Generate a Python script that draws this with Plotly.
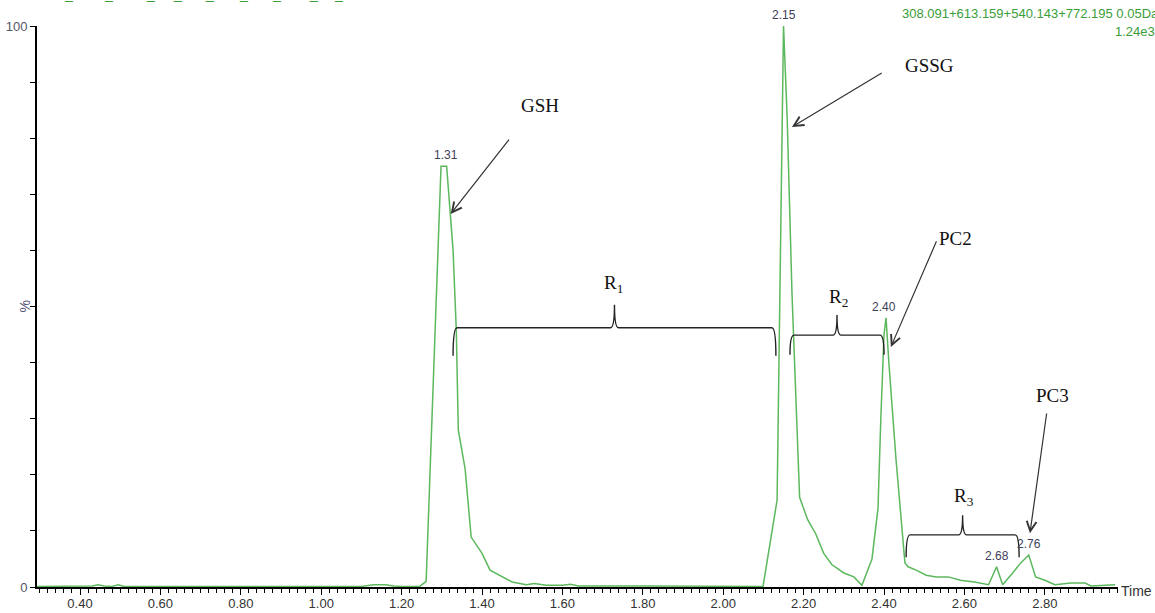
import plotly.graph_objects as go

# Chromatogram trace (retention time in min, relative intensity in %)
time_min = [0.293, 0.40, 0.43, 0.445, 0.46, 0.48, 0.495, 0.51, 0.60, 0.70, 0.80, 0.90, 1.00,
            1.10, 1.13, 1.16, 1.18, 1.20, 1.245, 1.261, 1.298, 1.312, 1.328, 1.336, 1.341,
            1.358, 1.373, 1.40, 1.42, 1.45, 1.475, 1.51, 1.53, 1.56, 1.60, 1.62, 1.64, 1.80,
            1.90, 2.00, 2.05, 2.099, 2.134, 2.15, 2.159, 2.171, 2.19, 2.21, 2.23, 2.25, 2.27,
            2.30, 2.325, 2.345, 2.37, 2.385, 2.392, 2.40, 2.405, 2.412, 2.43, 2.452, 2.46,
            2.48, 2.505, 2.53, 2.56, 2.59, 2.625, 2.66, 2.68, 2.695, 2.72, 2.74, 2.76, 2.777,
            2.80, 2.825, 2.865, 2.90, 2.915, 2.975]
intensity = [0.1, 0.1, 0.2, 0.4, 0.2, 0.1, 0.4, 0.1, 0.1, 0.1, 0.1, 0.1, 0.1,
             0.1, 0.4, 0.4, 0.2, 0.1, 0.1, 1.0, 75.0, 75.0, 60.0, 45.8, 28.0,
             21.0, 8.9, 6.0, 3.0, 1.8, 0.9, 0.4, 0.6, 0.3, 0.3, 0.5, 0.2, 0.2,
             0.2, 0.1, 0.1, 0.1, 15.5, 100.0, 83.8, 52.4, 16.0, 12.0, 9.5, 6.0, 4.0,
             2.5, 1.8, 0.3, 5.0, 14.0, 30.0, 45.0, 48.0, 40.0, 22.6, 4.3, 3.6,
             3.0, 2.1, 1.8, 1.8, 1.2, 0.9, 0.4, 3.6, 0.4, 2.5, 4.3, 5.7, 1.8,
             1.2, 0.4, 0.7, 0.7, 0.2, 0.4]

# Apex labels
peak_times = [1.31, 2.15, 2.40, 2.68, 2.76]
peak_vals = [75.0, 100.0, 48.0, 3.6, 5.7]

# Axis ticks
x_tick_vals = [0.40, 0.60, 0.80, 1.00, 1.20, 1.40, 1.60, 1.80, 2.00, 2.20, 2.40, 2.60, 2.80]
x_tick_text = ["0.40", "0.60", "0.80", "1.00", "1.20", "1.40", "1.60", "1.80",
               "2.00", "2.20", "2.40", "2.60", "2.80"]
y_tick_vals = [0, 10, 20, 30, 40, 50, 60, 70, 80, 90, 100]
y_tick_text = ["0", "", "", "", "", "", "", "", "", "", "100"]

# Compound call-outs: label position, arrow tail, arrow head
compounds = ["GSH", "GSSG", "PC2", "PC3"]
compound_label_xy = [(1.544, 85.9), (2.514, 93.0), (2.577, 62.2), (2.818, 34.2)]
arrow_tail_xy = [(1.470, 80.0), (2.398, 91.8), (2.532, 61.9), (2.805, 31.2)]
arrow_head_xy = [(1.322, 66.5), (2.171, 82.0), (2.417, 42.8), (2.763, 9.6)]

# Region braces: (start, end, level, foot, tip) and label positions
regions = ["R<sub>1</sub>", "R<sub>2</sub>", "R<sub>3</sub>"]
brace_spans = [(1.328, 2.131, 46.2, 41.2, 50.3),
               (2.166, 2.400, 44.9, 41.4, 48.5),
               (2.455, 2.736, 9.3, 5.3, 12.8)]
region_label_xy = [(1.728, 54.0), (2.286, 51.5), (2.599, 16.0)]

# Clipped header fragments along the top-left edge (paper x)
header_dash_x = [0.029, 0.066, 0.105, 0.130, 0.160, 0.191, 0.222, 0.256, 0.279]

GREEN = "#5cb85c"
TEXT_GREEN = "#3a9e3a"
SERIF = "Liberation Serif, Times New Roman, serif"
SANS = "Liberation Sans, Arial, sans-serif"

fig = go.Figure()
fig.add_trace(go.Scatter(x=time_min, y=intensity, mode="lines",
                         line=dict(color=GREEN, width=1.5), hoverinfo="skip",
                         showlegend=False))

annotations = []
for t, v in zip(peak_times, peak_vals):
    annotations.append(dict(x=t, y=v, xref="x", yref="y", text=f"{t:.2f}",
                            showarrow=False, yanchor="bottom", yshift=2,
                            font=dict(family=SANS, size=12, color="#3e3e58")))

for name, (lx, ly), (tx, ty), (hx, hy) in zip(compounds, compound_label_xy,
                                              arrow_tail_xy, arrow_head_xy):
    annotations.append(dict(x=lx, y=ly, xref="x", yref="y", text=name, showarrow=False,
                            font=dict(family=SERIF, size=19, color="#111111")))
    annotations.append(dict(x=hx, y=hy, ax=tx, ay=ty, xref="x", yref="y",
                            axref="x", ayref="y", text="", showarrow=True,
                            arrowhead=5, arrowsize=1.6, arrowwidth=1.2,
                            arrowcolor="#333333"))

for name, (lx, ly) in zip(regions, region_label_xy):
    annotations.append(dict(x=lx, y=ly, xref="x", yref="y", text=name, showarrow=False,
                            font=dict(family=SERIF, size=19, color="#111111")))


def brace_path(x0, x1, yl, yb, yt, dx=0.01):
    xm = (x0 + x1) / 2
    return (f"M{x0},{yb} Q{x0},{yl} {x0 + dx},{yl} L{xm - dx},{yl} "
            f"Q{xm},{yl} {xm},{yt} Q{xm},{yl} {xm + dx},{yl} "
            f"L{x1 - dx},{yl} Q{x1},{yl} {x1},{yb}")


shapes = []
for x0, x1, yl, yb, yt in brace_spans:
    shapes.append(dict(type="path", xref="x", yref="y", path=brace_path(x0, x1, yl, yb, yt),
                       line=dict(color="#222222", width=1.4)))

# y-axis title
annotations.append(dict(x=0, y=50, xref="paper", yref="y", text="%", textangle=-90,
                        showarrow=False, xanchor="right", xshift=-3,
                        font=dict(family=SANS, size=14, color="#555577")))
# x-axis title
annotations.append(dict(x=1, y=0, xref="paper", yref="y", text="Time", showarrow=False,
                        xanchor="left", xshift=1, yanchor="middle", yshift=-4,
                        font=dict(family=SANS, size=14, color="#333333")))
# Acquisition header
annotations.append(dict(x=1.0395, y=1.023, xref="paper", yref="paper",
                        text="308.091+613.159+540.143+772.195 0.05Da", showarrow=False,
                        xanchor="right", yanchor="middle",
                        font=dict(family=SANS, size=13, color=TEXT_GREEN)))
annotations.append(dict(x=1.036, y=0.991, xref="paper", yref="paper", text="1.24e3",
                        showarrow=False, xanchor="right", yanchor="middle",
                        font=dict(family=SANS, size=13, color=TEXT_GREEN)))
for dxp in header_dash_x:
    annotations.append(dict(x=dxp, y=1.0, xref="paper", yref="paper", text="_",
                            showarrow=False, xanchor="center", yanchor="bottom", yshift=22,
                            font=dict(family=SANS, size=14, color=TEXT_GREEN)))

fig.update_layout(
    width=1155, height=613, autosize=False,
    margin=dict(l=37, r=37, t=26, b=26, autoexpand=False),
    paper_bgcolor="white", plot_bgcolor="white",
    annotations=annotations, shapes=shapes,
    xaxis=dict(range=[0.293, 2.982], showgrid=False, zeroline=False, automargin=False,
               showline=True, linecolor="black", linewidth=2,
               tickmode="array", tickvals=x_tick_vals, ticktext=x_tick_text,
               ticks="outside", ticklen=6, tickwidth=1, tickcolor="black",
               ticklabelstandoff=-3,
               minor=dict(tickmode="linear", tick0=0.0, dtick=0.02, ticks="outside",
                          ticklen=4, tickwidth=1, tickcolor="black"),
               tickfont=dict(family=SANS, size=13, color="#333333")),
    yaxis=dict(range=[0, 100], showgrid=False, zeroline=False, automargin=False,
               showline=True, linecolor="black", linewidth=2,
               tickmode="array", tickvals=y_tick_vals, ticktext=y_tick_text,
               ticks="outside", ticklen=5, tickwidth=1, tickcolor="black",
               tickfont=dict(family=SANS, size=13, color="#555566")),
)

fig.write_html("out.html", config={"displayModeBar": False})
